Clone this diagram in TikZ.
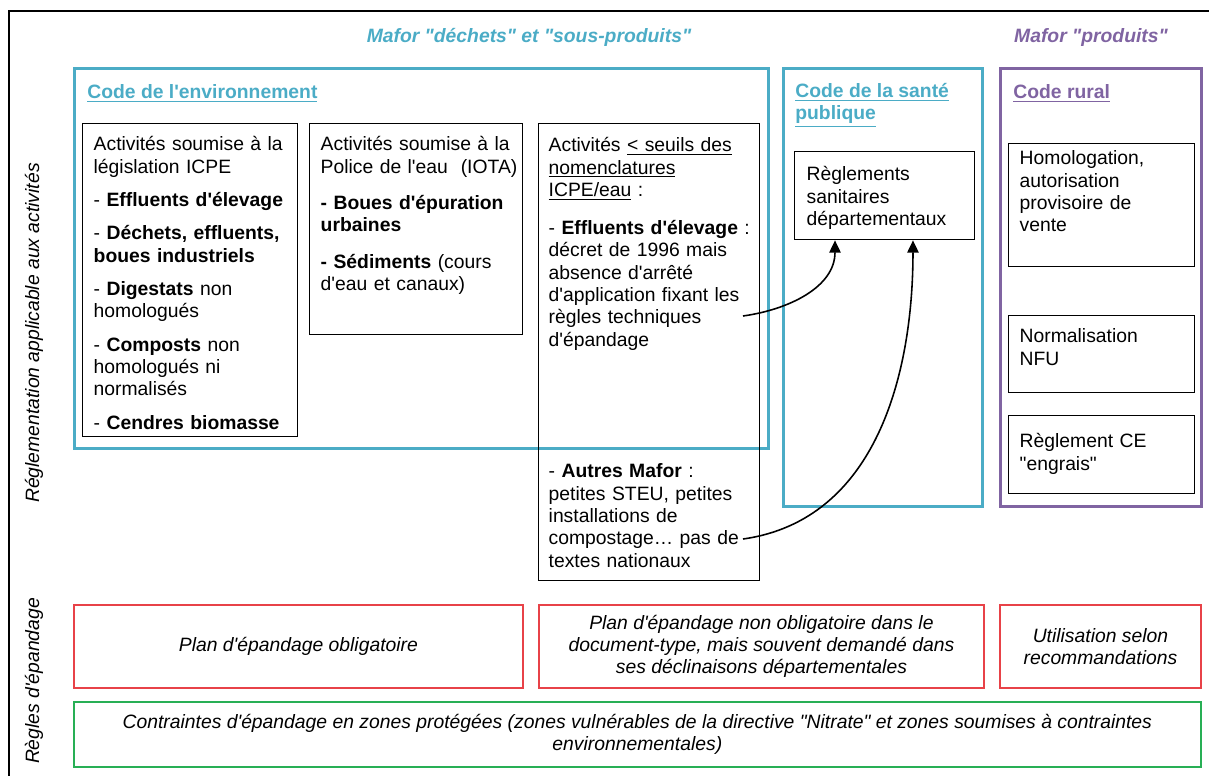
\documentclass[tikz,border=0pt]{standalone}
\usepackage{fontspec}
\setmainfont{Liberation Sans}[Ligatures=TeXOff]
\usepackage{xcolor}
\usetikzlibrary{arrows.meta,positioning}
\definecolor{envteal}{RGB}{75,172,198}
\definecolor{ruralpurple}{RGB}{128,100,162}
\definecolor{planred}{RGB}{232,66,72}
\definecolor{zonegreen}{RGB}{40,175,85}
\newcommand{\bodyfont}{\fontsize{11}{12.7}\selectfont}
\tikzset{codeframe/.style={rectangle, draw, line width=1.7pt, anchor=north west, inner sep=0pt}, codetitle/.style={anchor=base west, inner sep=0pt, align=left, font=\bodyfont\bfseries}, actbox/.style={rectangle, draw=black, line width=0.8pt, anchor=north west, align=left, inner ysep=0pt, font=\bodyfont}, planbox/.style={rectangle, draw=planred, line width=1.1pt, anchor=north west, inner sep=0pt, align=center, font=\bodyfont\itshape}, sidelabel/.style={rotate=90, inner sep=0pt, font=\bodyfont\itshape}, mafor/.style={anchor=base, inner sep=0pt, font=\bodyfont\bfseries\itshape}, link/.style={-{Triangle[length=7pt,width=6.5pt]}, line width=0.9pt, draw=black}}

\begin{document}
\begin{tikzpicture}[x=0.02cm, y=-0.02cm]
\useasboundingbox (0,0) rectangle (1209,776);
\draw[line width=1.1pt] (9,776) |- (1209,11);
% headings
\node[mafor, text=envteal] (tdechets) at (529,43) {Mafor "déchets" et "sous-produits"};
\node[mafor, text=ruralpurple] (tproduits) at (1091,43) {Mafor "produits"};
\node[sidelabel] (lblreg) at (34,333) {Réglementation applicable aux activités};
\node[sidelabel] (lblepan) at (34,681) {Règles d'épandage};
% code de l'environnement
\node[codeframe, draw=envteal, minimum width=13.88cm, minimum height=7.6cm] (env) at (73,67) {};
\node[codetitle, text=envteal] (envhead) at (87,99) {\underline{Code de l'environnement}};
\node[actbox, inner xsep=0.22cm, text width=3.86cm, text height=0.54cm, text depth=5.72cm] (icpe) at (82,123) {Activités soumise à la\\législation ICPE\\[6.3pt]
- \textbf{Effluents d'élevage}\\[6.3pt]
- \textbf{Déchets, effluents,}\\\textbf{boues industriels}\\[6.3pt]
- \textbf{Digestats} non\\homologués\\[6.3pt]
- \textbf{Composts} non\\homologués ni\\normalisés\\[6.3pt]
- \textbf{Cendres biomasse}};
\node[actbox, inner xsep=0.22cm, text width=3.82cm, text height=0.54cm, text depth=3.68cm] (iota) at (309,123) {Activités soumise à la\\\mbox{Police de l'eau\ \ (IOTA)}\\[8pt]
\textbf{- Boues d'épuration}\\\textbf{urbaines}\\[8pt]
\textbf{- Sédiments} (cours\\d'eau et canaux)};
\node[actbox, inner xsep=0.2cm, text width=4.02cm, text height=0.56cm, text depth=8.58cm] (seuils) at (538,123) {Activités \underline{< seuils des}\\\underline{nomenclatures}\\\underline{ICPE/eau} :\\[9pt]
\mbox{- \textbf{Effluents d'élevage} :}\\décret de 1996 mais\\absence d'arrêté\\\mbox{d'application fixant les}\\règles techniques\\d'épandage\\[62.4pt]
- \textbf{Autres Mafor} :\\petites STEU, petites\\installations de\\\mbox{compostage… pas de}\\textes nationaux};
% code de la sante publique
\node[codeframe, draw=envteal, minimum width=3.98cm, minimum height=8.76cm] (sante) at (782,67) {};
\node[codetitle, text=envteal] (santehead) at (795,120) {\underline{Code de la santé}\\\underline{publique}};
\node[actbox, inner xsep=0.24cm, text width=3.12cm, text height=0.58cm, text depth=1.18cm] (rsd) at (794,151) {Règlements\\sanitaires\\départementaux};
% code rural
\node[codeframe, draw=ruralpurple, minimum width=4.02cm, minimum height=8.76cm] (rural) at (999,67) {};
\node[codetitle, text=ruralpurple] (ruralhead) at (1013,99) {\underline{Code rural}};
\node[actbox, inner xsep=0.22cm, text width=3.28cm, text height=0.42cm, text depth=2.04cm] (homol) at (1008,143) {Homologation,\\autorisation\\provisoire de\\vente};
\node[actbox, inner xsep=0.22cm, text width=3.28cm, text height=0.54cm, text depth=1.0cm] (nfu) at (1008,315) {Normalisation\\NFU};
\node[actbox, inner xsep=0.22cm, text width=3.28cm, text height=0.64cm, text depth=0.92cm] (engrais) at (1008,415) {Règlement CE\\"engrais"};
% regles d'epandage
\node[planbox, minimum width=8.98cm, minimum height=1.66cm] (plan1) at (73,604) {Plan d'épandage obligatoire};
\node[planbox, minimum width=8.9cm, minimum height=1.66cm] (plan2) at (538,604) {Plan d'épandage non obligatoire dans le\\document-type, mais souvent demandé dans\\ses déclinaisons départementales};
\node[planbox, minimum width=4.02cm, minimum height=1.66cm] (plan3) at (999,604) {Utilisation selon\\recommandations};
\node[planbox, draw=zonegreen, minimum width=22.54cm, minimum height=1.3cm] (zones) at (73,701) {Contraintes d'épandage en zones protégées (zones vulnérables de la directive "Nitrate" et zones soumises à contraintes\\environnementales)};
% renvois vers les RSD
\coordinate (effend) at (743,316);
\coordinate (autend) at (743,539);
\draw[link] (effend) to[out=8,in=-90] ([xshift=0.82cm]rsd.south west);
\draw[link] (autend) to[out=8,in=-90] ([xshift=2.38cm]rsd.south west);
\end{tikzpicture}
\end{document}
